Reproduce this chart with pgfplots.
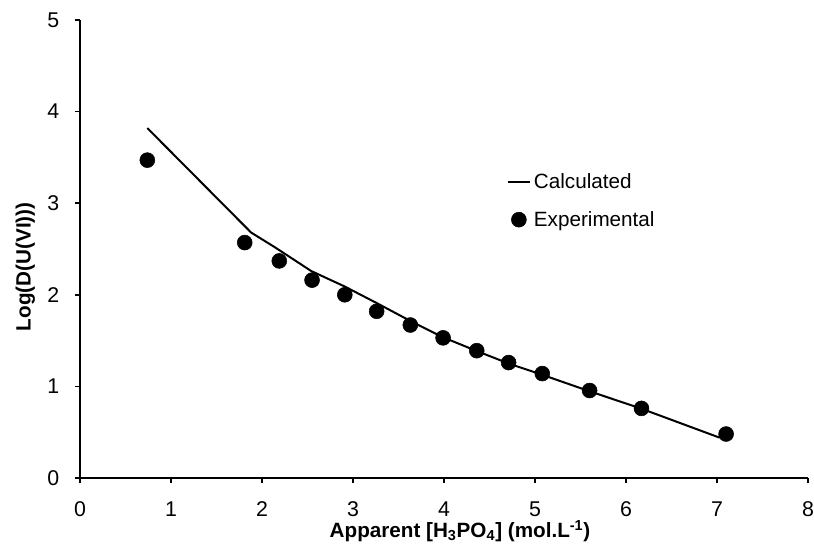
\documentclass[border=0pt]{standalone}
\usepackage{fontspec}
\setmainfont{Liberation Sans}
\usepackage{pgfplots}
\pgfplotsset{compat=1.18}

\begin{document}
\begin{tikzpicture}
	% page = 814 x 546 px at 0.75pt/px, axis box 728 x 458 px
	\useasboundingbox (-60pt,-51pt) rectangle (550.5pt,358.5pt);
	\begin{axis}[
		at={(0,0)}, anchor=south west,
		scale only axis,
		width=546pt,
		height=343.5pt,
		xmin=0, xmax=8,
		ymin=0, ymax=5,
		xtick={0,1,...,8},
		ytick={0,1,...,5},
		axis x line=bottom,
		axis y line=left,
		axis line style={-, line width=1.1pt},
		tick align=outside,
		major tick length=3.8pt,
		tick style={black, line width=1.1pt},
		/pgf/number format/assume math mode=true,
		ticklabel style={font=\fontsize{16}{19}\selectfont, inner sep=0pt},
		yticklabel style={anchor=east, xshift=-11.5pt},
		xticklabel style={anchor=north, yshift=-13.5pt},
		label style={font=\fontsize{15.5}{18}\selectfont\bfseries},
		xlabel={Apparent [H\textsubscript{3}PO\textsubscript{4}] (mol.L\textsuperscript{-1})},
		ylabel={Log(D(U(VI)))},
		xlabel style={at={(axis description cs:0.522,-0.116)}, anchor=center},
		ylabel style={at={(axis description cs:-0.075,0.461)}, anchor=center},
		legend style={draw=none, fill=none, at={(0.58,0.677)}, anchor=north west,
			font=\fontsize{15.5}{18}\selectfont, row sep=11.5pt},
		legend cell align=left,
		]
		\addplot[black, line width=1.5pt] coordinates {
			(0.74, 3.82) (1.88, 2.68) (2.14, 2.52) (2.54, 2.26) (2.91, 2.09)
			(3.26, 1.91) (3.62, 1.72) (3.98, 1.54) (4.35, 1.39) (4.71, 1.25)
			(5.07, 1.13) (5.59, 0.95) (6.16, 0.76) (7.03, 0.44) };
		\addlegendentry{Calculated}
		\addplot[only marks, mark=*, mark size=5.6pt, black] coordinates {
			(0.74, 3.47) (1.81, 2.57) (2.19, 2.37) (2.55, 2.16) (2.91, 2.00)
			(3.26, 1.82) (3.63, 1.67) (3.99, 1.53) (4.36, 1.39) (4.71, 1.26)
			(5.08, 1.14) (5.60, 0.955) (6.17, 0.76) (7.10, 0.48) };
		\addlegendentry{Experimental}
	\end{axis}
\end{tikzpicture}
\end{document}
